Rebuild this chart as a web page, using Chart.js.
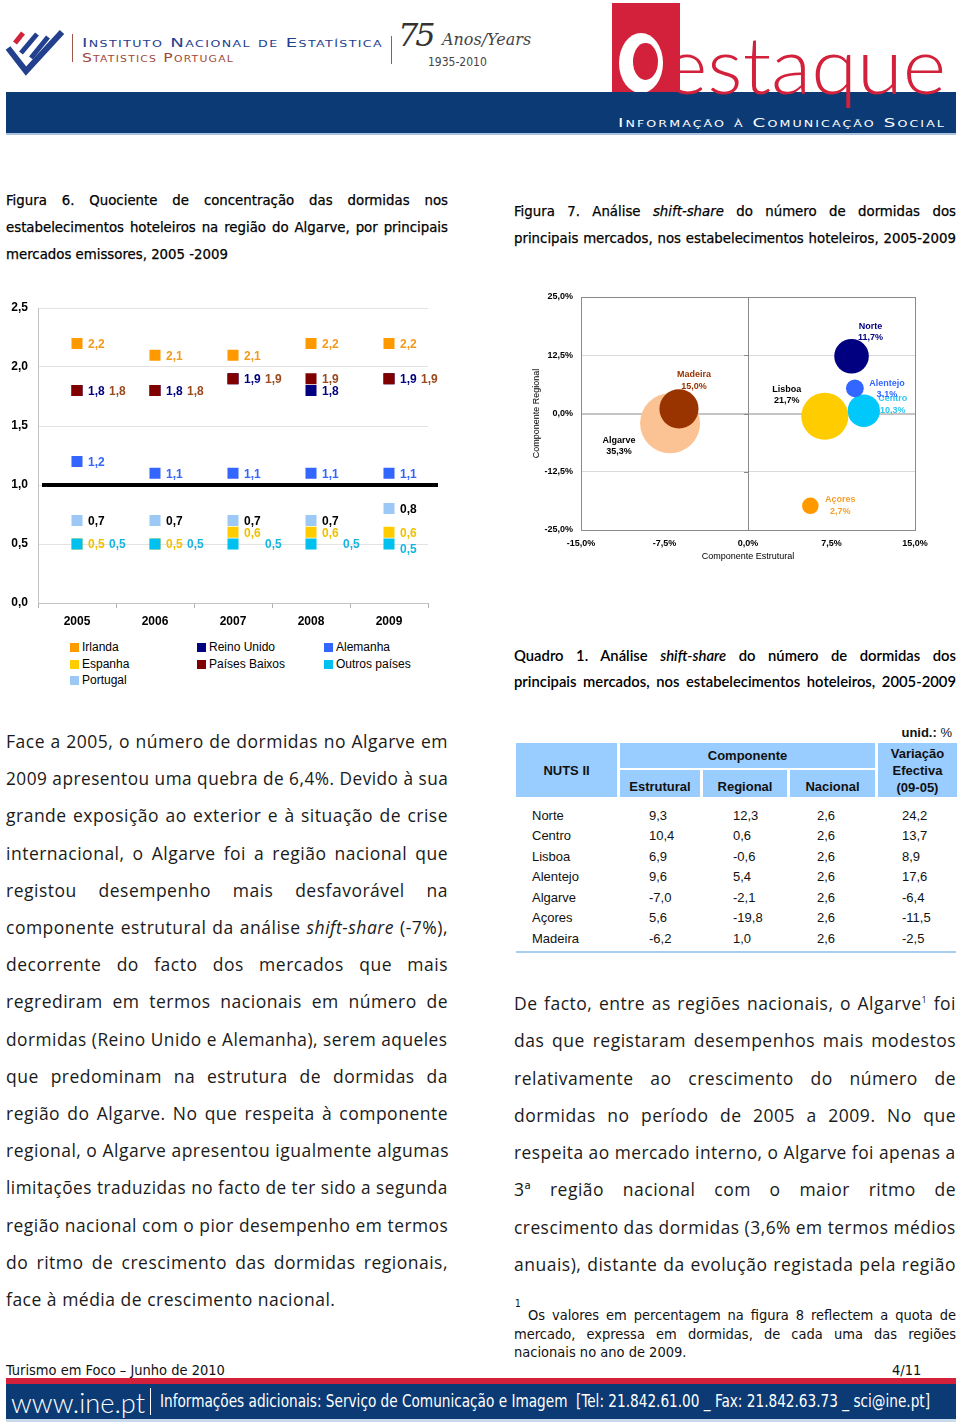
<!DOCTYPE html>
<html lang="pt">
<head>
<meta charset="utf-8">
<title>Turismo em Foco – Junho de 2010</title>
<script src="https://cdn.jsdelivr.net/npm/chart.js@4.4.1/dist/chart.umd.min.js"></script>
<style>
  html, body { margin: 0; padding: 0; background: #fff; }
  body { width: 960px; height: 1425px; position: relative; overflow: hidden; font-family: 'Open Sans', sans-serif; color: #111; }
  .abs { position: absolute; }
  .cond { font-family: 'Liberation Sans Narrow', 'DejaVu Sans Condensed', sans-serif; }
  .arial { font-family: 'Liberation Sans', Arial, sans-serif; }
  .linhas > div { white-space: nowrap; text-align: justify; text-align-last: justify; transform-origin: left center; }
  .linhas > div.fim { text-align-last: left; }
  .fit { white-space: nowrap; display: inline-block; transform-origin: left center; }
  .corpo { font-size: 17.5px; letter-spacing: 0.5px; color: #1a1a1a; }
  #quadroCab, #quadroCorpo { border-collapse: separate; font-family: 'Liberation Sans', Arial, sans-serif; font-size: 13px; }
  #quadroCab { border-spacing: 3px 2px; }
  #quadroCab td { background: #99ccff; font-weight: bold; text-align: center; padding: 0; }
  #quadroCorpo { border-spacing: 3px 0; }
  #quadroCorpo td { height: 20.5px; padding: 0; }
  .leg { position: absolute; font: 12px 'Liberation Sans', Arial, sans-serif; color: #000; line-height: 14px; white-space: nowrap; }
  .leg i { display: inline-block; width: 9px; height: 9px; margin-right: 3px; vertical-align: -1px; }
</style>
</head>
<body>

<!-- cabeçalho -->
<svg class="abs" style="left:4px;top:26px" width="62" height="50" viewBox="0 0 62 50">
  <line x1="11" y1="17" x2="19" y2="7" stroke="#d0243b" stroke-width="5"/>
  <polyline points="4,22 22,45 58,6" fill="none" stroke="#23408e" stroke-width="6"/>
  <line x1="17" y1="27" x2="33" y2="8" stroke="#23408e" stroke-width="5"/>
  <line x1="27" y1="32" x2="44" y2="11" stroke="#23408e" stroke-width="5"/>
</svg>
<div class="abs" style="left:72px;top:34px;width:1px;height:28px;background:#a0584a"></div>
<div class="abs" style="left:82px;top:33px;height:16px;line-height:16px">
  <span class="fit" data-w="301" style="font:13px 'DejaVu Sans',sans-serif;font-variant:small-caps;letter-spacing:1px;color:#23408e">Instituto Nacional de Estatística</span>
</div>
<div class="abs" style="left:82px;top:48px;height:16px;line-height:16px">
  <span class="fit" data-w="152" style="font:13px 'DejaVu Sans',sans-serif;font-variant:small-caps;letter-spacing:1px;color:#a0473a">Statistics Portugal</span>
</div>
<div class="abs" style="left:391px;top:36px;width:1px;height:28px;background:#a0584a"></div>
<div class="abs" style="left:398px;top:16px;font:italic 32px 'DejaVu Serif',serif;color:#333;letter-spacing:-3px">75</div>
<div class="abs" style="left:442px;top:30px;font:italic 16px 'DejaVu Serif',serif;color:#444">Anos/Years</div>
<div class="abs cond" style="left:428px;top:55px;font-size:12px;color:#444">1935-2010</div>

<svg class="abs" style="left:612px;top:3px" width="68" height="89" viewBox="0 0 68 89">
  <rect width="68" height="89" fill="#d3213c"/>
  <ellipse cx="29" cy="60" rx="22" ry="30" fill="#fff"/>
  <ellipse cx="33.5" cy="58.5" rx="12.5" ry="18.5" fill="#d3213c"/>
  <rect x="51" y="0" width="17" height="89" fill="#d3213c"/>
</svg>
<div class="abs" style="left:6px;top:92px;width:950px;height:41px;background:#0b3a74"></div>
<div class="abs" style="left:6px;top:133px;width:950px;height:2px;background:#a9c3de"></div>
<div class="abs" style="left:664px;top:17px;height:80px;line-height:80px">
  <span class="fit" data-w="282" style="font:300 78px Lato,sans-serif;color:#d3213c">estaque</span>
</div>
<div class="abs" style="left:618px;top:113px;height:16px;line-height:16px">
  <span class="fit" data-w="328" style="font:13px 'DejaVu Sans',sans-serif;font-variant:small-caps;letter-spacing:1.5px;color:#fff">Informação à Comunicação Social</span>
</div>

<!-- legendas das figuras -->
<div class="abs cond linhas" style="left:6px;top:186px;width:442px;font-size:14.8px;line-height:27px;color:#000;-webkit-text-stroke:0.25px #000">
  <div>Figura 6. Quociente de concentração das dormidas nos</div>
  <div>estabelecimentos hoteleiros na região do Algarve, por principais</div>
  <div class="fim">mercados emissores, 2005 -2009</div>
</div>
<div class="abs cond linhas" style="left:514px;top:197px;width:442px;font-size:14.8px;line-height:27px;color:#000;-webkit-text-stroke:0.25px #000">
  <div>Figura 7. Análise <i>shift-share</i> do número de dormidas dos</div>
  <div>principais mercados, nos estabelecimentos hoteleiros, 2005-2009</div>
</div>

<!-- figura 6 -->
<div class="abs" style="left:0;top:295px;width:440px;height:340px"><canvas id="fig6"></canvas></div>
<div id="legenda6"></div>

<!-- figura 7 -->
<div class="abs" style="left:515px;top:285px;width:445px;height:285px"><canvas id="fig7"></canvas></div>

<!-- quadro 1 -->
<div class="abs linhas" style="left:514px;top:642px;width:442px;font-family:Lato,sans-serif;font-size:14.8px;font-weight:600;line-height:26px;color:#000">
  <div>Quadro 1. Análise <i>shift-share</i> do número de dormidas dos</div>
  <div>principais mercados, nos estabelecimentos hoteleiros, 2005-2009</div>
</div>
<div class="abs arial" style="right:8px;top:725px;font-size:13px"><b>unid.:</b> %</div>
<table id="quadroCab" class="abs" style="left:513px;top:741px">
  <tr style="height:25px">
    <td rowspan="2" style="width:101px">NUTS II</td>
    <td colspan="3">Componente</td>
    <td rowspan="2" style="width:79px;line-height:17px">Variação<br>Efectiva<br>(09-05)</td>
  </tr>
  <tr style="height:27px">
    <td style="width:80px;padding-top:6px">Estrutural</td>
    <td style="width:84px;padding-top:6px">Regional</td>
    <td style="width:85px;padding-top:6px">Nacional</td>
  </tr>
</table>
<table id="quadroCorpo" class="abs" style="left:513px;top:805px"></table>
<div class="abs" style="left:516px;top:951px;width:440px;height:2px;background:#a6cdf2"></div>

<!-- texto -->
<div class="abs linhas corpo" style="left:6px;top:723px;width:442px;line-height:37.2px">
  <div>Face a 2005, o número de dormidas no Algarve em</div>
  <div>2009 apresentou uma quebra de 6,4%. Devido à sua</div>
  <div>grande exposição ao exterior e à situação de crise</div>
  <div>internacional, o Algarve foi a região nacional que</div>
  <div>registou desempenho mais desfavorável na</div>
  <div>componente estrutural da análise <i>shift-share</i> (-7%),</div>
  <div>decorrente do facto dos mercados que mais</div>
  <div>regrediram em termos nacionais em número de</div>
  <div>dormidas (Reino Unido e Alemanha), serem aqueles</div>
  <div>que predominam na estrutura de dormidas da</div>
  <div>região do Algarve. No que respeita à componente</div>
  <div>regional, o Algarve apresentou igualmente algumas</div>
  <div>limitações traduzidas no facto de ter sido a segunda</div>
  <div>região nacional com o pior desempenho em termos</div>
  <div>do ritmo de crescimento das dormidas regionais,</div>
  <div class="fim">face à média de crescimento nacional.</div>
</div>
<div class="abs linhas corpo" style="left:514px;top:985px;width:442px;line-height:37.3px">
  <div>De facto, entre as regiões nacionais, o Algarve<sup style="font-size:9px;line-height:0">1</sup> foi</div>
  <div>das que registaram desempenhos mais modestos</div>
  <div>relativamente ao crescimento do número de</div>
  <div>dormidas no período de 2005 a 2009. No que</div>
  <div>respeita ao mercado interno, o Algarve foi apenas a</div>
  <div>3ª região nacional com o maior ritmo de</div>
  <div>crescimento das dormidas (3,6% em termos médios</div>
  <div>anuais), distante da evolução registada pela região</div>
</div>

<!-- nota de rodapé -->
<div class="abs cond" style="left:515px;top:1298px;font-size:10px">1</div>
<div class="abs cond linhas" style="left:514px;top:1306px;width:442px;font-size:14.5px;line-height:18.5px;color:#111">
  <div style="padding-left:14px">Os valores em percentagem na figura 8 reflectem a quota de</div>
  <div>mercado, expressa em dormidas, de cada uma das regiões</div>
  <div class="fim">nacionais no ano de 2009.</div>
</div>

<!-- rodapé -->
<div class="abs cond" style="left:6px;top:1361px;font-size:14.5px;line-height:18px;color:#111">Turismo em Foco – Junho de 2010</div>
<div class="abs cond" style="left:892px;top:1361px;font-size:14.5px;line-height:18px;color:#111">4/11</div>
<div class="abs" style="left:6px;top:1378px;width:950px;height:6px;background:#d3213c"></div>
<div class="abs" style="left:6px;top:1384px;width:950px;height:35px;background:#0b3a74"></div>
<div class="abs" style="left:6px;top:1419px;width:950px;height:3px;background:#c9dbea"></div>
<div class="abs" style="left:11px;top:1386px;height:30px;line-height:30px">
  <span class="fit" data-w="134" style="font:300 27px Lato,sans-serif;color:#fff">www.ine.pt</span>
</div>
<div class="abs" style="left:150px;top:1388px;width:1px;height:27px;background:#fff"></div>
<div class="abs" style="left:160px;top:1390px;height:22px;line-height:22px">
  <span class="fit cond" data-w="770" style="font-size:17px;color:#fff">Informações adicionais: Serviço de Comunicação e Imagem&nbsp; [Tel: 21.842.61.00 _ Fax: 21.842.63.73 _ sci@ine.pt]</span>
</div>

<script>
// Figura 6 – quociente de concentração das dormidas, Algarve
const anos = ['2005', '2006', '2007', '2008', '2009'];
const irlanda = [2.2, 2.1, 2.1, 2.2, 2.2];
const espanha = [0.5, 0.5, 0.6, 0.6, 0.6];
const portugal = [0.7, 0.7, 0.7, 0.7, 0.8];
const reinoUnido = [1.8, 1.8, 1.9, 1.8, 1.9];
const paisesBaixos = [1.8, 1.8, 1.9, 1.9, 1.9];
const alemanha = [1.2, 1.1, 1.1, 1.1, 1.1];
const outrosPaises = [0.5, 0.5, 0.5, 0.5, 0.5];
const ticksFig6 = [0, 0.5, 1.0, 1.5, 2.0, 2.5];

// Figura 7 / Quadro 1 – análise shift-share
const regioes = ['Norte', 'Centro', 'Lisboa', 'Alentejo', 'Algarve', 'Açores', 'Madeira'];
const estrutural = [9.3, 10.4, 6.9, 9.6, -7.0, 5.6, -6.2];
const regional = [12.3, 0.6, -0.6, 5.4, -2.1, -19.8, 1.0];
const nacional = [2.6, 2.6, 2.6, 2.6, 2.6, 2.6, 2.6];
const variacao = [24.2, 13.7, 8.9, 17.6, -6.4, -11.5, -2.5];
const quotaMercado = [11.7, 10.3, 21.7, 3.1, 35.3, 2.7, 15.0];
const ticksX7 = [-15, -7.5, 0, 7.5, 15];
const ticksY7 = [-25, -12.5, 0, 12.5, 25];

const virgula = (v, d = 1) => v.toFixed(d).replace('.', ',');
const fonteArial = 'Liberation Sans, Arial, sans-serif';

// séries da figura 6 (ordem = ordem de desenho, menor fica por cima)
const mercados = [
  { nome: 'Irlanda', dados: irlanda, cor: '#ff9900', texto: '#f39a1e', ordem: 7 },
  { nome: 'Espanha', dados: espanha, cor: '#ffcc00', texto: '#f0c000', ordem: 6 },
  { nome: 'Portugal', dados: portugal, cor: '#9cc8f5', texto: '#000000', ordem: 5 },
  { nome: 'Reino Unido', dados: reinoUnido, cor: '#000080', texto: '#000080', ordem: 4 },
  { nome: 'Países Baixos', dados: paisesBaixos, cor: '#800000', texto: '#9a4a1c', ordem: 3 },
  { nome: 'Alemanha', dados: alemanha, cor: '#3366ff', texto: '#3366ff', ordem: 2 },
  { nome: 'Outros países', dados: outrosPaises, cor: '#00c0f0', texto: '#18b4e0', ordem: 1 }
];

function deslocRotulo(nome, ano) {
  if (nome === 'Países Baixos' && ano !== 3) return [32, 0];
  if (nome === 'Outros países') return ano === 4 ? [11, 5] : [32, 0];
  return [11, 0];
}

const rotulosFig6 = {
  id: 'rotulosFig6',
  afterDatasetsDraw(chart) {
    const ctx = chart.ctx;
    ctx.save();
    ctx.font = 'bold 12px ' + fonteArial;
    ctx.textAlign = 'left';
    ctx.textBaseline = 'middle';
    chart.data.datasets.forEach((ds, i) => {
      const serie = mercados[i];
      chart.getDatasetMeta(i).data.forEach((pt, j) => {
        const [dx, dy] = deslocRotulo(serie.nome, j);
        ctx.fillStyle = serie.texto;
        ctx.fillText(virgula(ds.data[j]), pt.x + dx, pt.y + dy + 1);
      });
    });
    ctx.restore();
  }
};

const linhaUnidade = {
  id: 'linhaUnidade',
  beforeDatasetsDraw(chart) {
    const { ctx, chartArea, scales } = chart;
    const y = scales.y.getPixelForValue(1);
    ctx.save();
    ctx.strokeStyle = '#000';
    ctx.lineWidth = 4;
    ctx.beginPath();
    ctx.moveTo(chartArea.left + 4, y);
    ctx.lineTo(chartArea.right + 10, y);
    ctx.stroke();
    ctx.restore();
  }
};

new Chart(document.getElementById('fig6'), {
  type: 'line',
  data: {
    labels: anos,
    datasets: mercados.map(m => ({
      label: m.nome,
      data: m.dados,
      showLine: false,
      pointStyle: 'rect',
      pointRadius: 7.8,
      pointHoverRadius: 7.8,
      pointBorderWidth: 0,
      backgroundColor: m.cor,
      borderColor: m.cor,
      order: m.ordem
    }))
  },
  options: {
    responsive: true,
    maintainAspectRatio: false,
    animation: false,
    layout: { autoPadding: false, padding: { top: 13, right: 12, left: 0, bottom: 0 } },
    plugins: { legend: { display: false }, tooltip: { enabled: false } },
    scales: {
      x: {
        offset: true,
        grid: { offset: true, drawOnChartArea: false, tickLength: 5, color: '#b0b0b0' },
        border: { color: '#c4c4c4' },
        ticks: { padding: 6, color: '#000', font: { family: fonteArial, size: 12, weight: 'bold' } },
        afterFit: s => { s.height = 32; }
      },
      y: {
        min: 0,
        max: 2.5,
        afterBuildTicks: s => { s.ticks = ticksFig6.map(v => ({ value: v })); },
        grid: { color: '#e3e3e3', tickLength: 7, tickColor: 'rgba(0,0,0,0)' },
        border: { color: '#c4c4c4' },
        ticks: { padding: 3, color: '#000', font: { family: fonteArial, size: 12, weight: 'bold' }, callback: v => virgula(v) },
        afterFit: s => { s.width = 38; }
      }
    }
  },
  plugins: [linhaUnidade, rotulosFig6]
});

// legenda da figura 6 em três colunas
const colunasLegenda = [[0, 1, 2], [3, 4], [5, 6]];
const xColunas = [70, 197, 324];
const legenda6 = document.getElementById('legenda6');
colunasLegenda.forEach((col, c) => {
  col.forEach((idx, r) => {
    const d = document.createElement('div');
    d.className = 'leg';
    d.style.left = xColunas[c] + 'px';
    d.style.top = (640 + r * 16.5) + 'px';
    d.innerHTML = '<i style="background:' + mercados[idx].cor + '"></i>' + mercados[idx].nome;
    legenda6.appendChild(d);
  });
});

// Figura 7 – bolhas
const coresRegioes = ['#000080', '#00c8fa', '#ffcc00', '#3366ff', '#fbc393', '#ff9900', '#993300'];
const textoRegioes = ['#000080', '#2ec8f0', '#000000', '#3366ff', '#000000', '#f5a02a', '#993300'];
const posRotulos = [[19, -30], [29, -12], [-38, -27], [32, -5], [-51, 17], [30, -6], [15, -34]];
const raioMaximo = 30;
const quotaMaxima = Math.max(...quotaMercado);

const rotulosFig7 = {
  id: 'rotulosFig7',
  afterDatasetsDraw(chart) {
    const ctx = chart.ctx;
    ctx.save();
    ctx.font = 'bold 9px ' + fonteArial;
    ctx.textAlign = 'center';
    ctx.textBaseline = 'middle';
    chart.getDatasetMeta(0).data.forEach((b, i) => {
      const [dx, dy] = posRotulos[i];
      ctx.fillStyle = textoRegioes[i];
      ctx.fillText(regioes[i], b.x + dx, b.y + dy);
      ctx.fillText(virgula(quotaMercado[i]) + '%', b.x + dx, b.y + dy + 11.5);
    });
    ctx.restore();
  }
};

const eixosCruzados = {
  id: 'eixosCruzados',
  beforeDatasetsDraw(chart) {
    const { ctx, chartArea: a, scales } = chart;
    const x0 = scales.x.getPixelForValue(0);
    const y0 = scales.y.getPixelForValue(0);
    ctx.save();
    ctx.strokeStyle = '#8a8a8a';
    ctx.lineWidth = 1;
    ctx.strokeRect(a.left + 0.5, a.top + 0.5, a.right - a.left, a.bottom - a.top);
    ctx.beginPath();
    ctx.moveTo(x0 + 0.5, a.top); ctx.lineTo(x0 + 0.5, a.bottom);
    ctx.moveTo(a.left, y0 + 0.5); ctx.lineTo(a.right, y0 + 0.5);
    ticksX7.forEach(v => {
      const x = Math.round(scales.x.getPixelForValue(v)) + 0.5;
      ctx.moveTo(x, y0); ctx.lineTo(x, y0 + 4);
    });
    ticksY7.forEach(v => {
      const y = Math.round(scales.y.getPixelForValue(v)) + 0.5;
      ctx.moveTo(x0 - 4, y); ctx.lineTo(x0, y);
    });
    ctx.stroke();
    ctx.restore();
  }
};

const fonteEixo7 = { family: fonteArial, size: 9, weight: 'bold' };
new Chart(document.getElementById('fig7'), {
  type: 'bubble',
  data: {
    datasets: [{
      label: 'Regiões',
      data: regioes.map((r, i) => ({
        x: estrutural[i],
        y: regional[i],
        r: raioMaximo * Math.sqrt(quotaMercado[i] / quotaMaxima)
      })),
      backgroundColor: coresRegioes,
      borderWidth: 0,
      hoverRadius: 0
    }]
  },
  options: {
    responsive: true,
    maintainAspectRatio: false,
    animation: false,
    clip: false,
    layout: { autoPadding: false, padding: { top: 12, right: 45, left: 0, bottom: 0 } },
    plugins: { legend: { display: false }, tooltip: { enabled: false } },
    scales: {
      x: {
        min: -15,
        max: 15,
        afterBuildTicks: s => { s.ticks = ticksX7.map(v => ({ value: v })); },
        grid: { display: false, drawTicks: false, tickLength: 0 },
        border: { display: false },
        ticks: { padding: 8, color: '#000', font: fonteEixo7, callback: v => virgula(v) + '%' },
        title: { display: true, text: 'Componente Estrutural', color: '#000', font: { family: fonteArial, size: 9 }, padding: { top: 0, bottom: 7.6 } },
        afterFit: s => { s.height = 40; }
      },
      y: {
        min: -25,
        max: 25,
        afterBuildTicks: s => { s.ticks = ticksY7.map(v => ({ value: v })); },
        grid: {
          tickLength: 6,
          tickColor: 'rgba(0,0,0,0)',
          color: c => (Math.abs(c.tick.value) === 12.5 ? '#dadada' : 'rgba(0,0,0,0)')
        },
        border: { display: false },
        ticks: { padding: 2, color: '#000', font: fonteEixo7, callback: v => virgula(v) + '%' },
        title: { display: true, text: 'Componente Regional', color: '#000', font: { family: fonteArial, size: 9 }, padding: { top: 16.6, bottom: 0 } },
        afterFit: s => { s.width = 66; }
      }
    }
  },
  plugins: [eixosCruzados, rotulosFig7]
});

// Quadro 1 – corpo
const corpo = document.getElementById('quadroCorpo');
const largCol = [101, 80, 84, 85, 79];
const recuo = [16, 29, 30, 27, 24];
regioes.forEach((r, i) => {
  const tr = document.createElement('tr');
  [r, virgula(estrutural[i]), virgula(regional[i]), virgula(nacional[i]), virgula(variacao[i])].forEach((t, c) => {
    const td = document.createElement('td');
    td.textContent = t;
    td.style.width = largCol[c] + 'px';
    td.style.paddingLeft = recuo[c] + 'px';
    td.style.boxSizing = 'border-box';
    tr.appendChild(td);
  });
  corpo.appendChild(tr);
});

// ajusta larguras dos textos do cabeçalho/rodapé e linhas demasiado longas
function ajustar() {
  document.querySelectorAll('.fit').forEach(el => {
    el.style.transform = 'none';
    const w = el.getBoundingClientRect().width;
    el.style.transform = 'scaleX(' + (parseFloat(el.dataset.w) / w) + ')';
  });
  document.querySelectorAll('.linhas > div').forEach(el => {
    el.style.transform = 'none';
    if (el.scrollWidth > el.clientWidth + 1) {
      el.style.transform = 'scaleX(' + (el.clientWidth / el.scrollWidth) + ')';
    }
  });
}
ajustar();
if (document.fonts && document.fonts.ready) document.fonts.ready.then(ajustar);
</script>
</body>
</html>
